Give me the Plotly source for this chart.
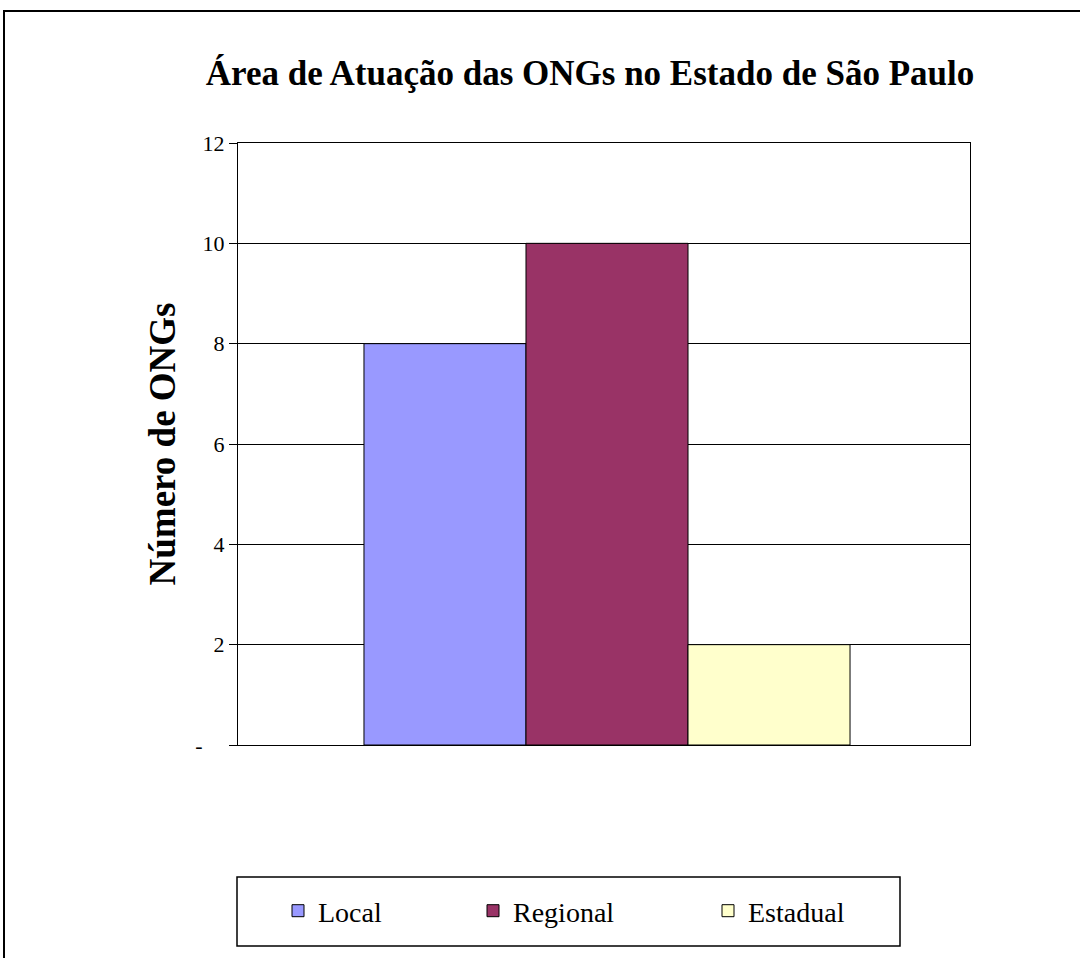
import plotly.graph_objects as go

# Área de atuação das ONGs
categories = ["Local", "Regional", "Estadual"]
counts = [8, 10, 2]
colors = ["#9999FF", "#993366", "#FFFFCC"]
y_ticks = [0, 2, 4, 6, 8, 10, 12]
y_tick_labels = ["-\u00a0\u00a0\u00a0\u00a0", "2", "4", "6", "8", "10", "12"]

W, H = 1080, 958
L, R, T, B = 238, 110, 143, 213
pw, ph = W - L - R, H - T - B


def px_x(px):
    return (px - L) / pw


def px_y(py):
    return (H - B - py) / ph


SERIF = "Liberation Serif, Times New Roman, serif"

# each series gets its own legend box entry so the entries can be spaced freely
legend_ids = ["legend", "legend2", "legend3"]
legend_left = [278, 473, 708]

fig = go.Figure()
for name, val, col, lg in zip(categories, counts, colors, legend_ids):
    fig.add_trace(go.Bar(
        x=[""], y=[val], name=name, legend=lg,
        marker=dict(color=col, line=dict(color="black", width=1)),
    ))

legend_style = dict(
    orientation="h", xanchor="left", yanchor="middle", y=px_y(911),
    font=dict(family=SERIF, size=28, color="black"),
    bgcolor="rgba(0,0,0,0)", borderwidth=0,
)

fig.update_layout(
    width=W, height=H,
    margin=dict(l=L, r=R, t=T, b=B),
    paper_bgcolor="white", plot_bgcolor="white",
    barmode="group", bargap=0.336, bargroupgap=0,
    font=dict(family=SERIF, color="black"),
    title=dict(
        text="<b>Área de Atuação das ONGs no Estado de São Paulo</b>",
        font=dict(family=SERIF, size=35, color="black"),
        x=px_x(590), xref="paper", xanchor="center",
        y=1 - 73 / H, yref="container", yanchor="middle",
    ),
    xaxis=dict(showticklabels=False, ticks="", showline=True, mirror=True,
               linecolor="black", linewidth=1, showgrid=False,
               range=[-0.5 - 3 / pw, 0.5 - 3 / pw]),
    yaxis=dict(
        range=[0, 12], tickvals=y_ticks, ticktext=y_tick_labels,
        ticks="outside", ticklen=8, tickcolor="black", tickwidth=1,
        tickfont=dict(family=SERIF, size=22, color="black"),
        showline=True, mirror=True, linecolor="black", linewidth=1,
        showgrid=True, gridcolor="black", gridwidth=1, zeroline=False,
        title=dict(text="<b>Número de ONGs</b>",
                   font=dict(family=SERIF, size=37, color="black"),
                   standoff=8),
    ),
    legend=dict(legend_style, x=px_x(legend_left[0])),
    legend2=dict(legend_style, x=px_x(legend_left[1])),
    legend3=dict(legend_style, x=px_x(legend_left[2])),
    showlegend=True,
    shapes=[
        # legend frame
        dict(type="rect", xref="paper", yref="paper",
             x0=px_x(237), x1=px_x(900), y0=px_y(946), y1=px_y(877),
             line=dict(color="black", width=1.5), fillcolor="rgba(0,0,0,0)"),
        # outer chart frame
        dict(type="rect", xref="paper", yref="paper",
             x0=px_x(4), x1=px_x(1090), y0=px_y(970), y1=px_y(11),
             line=dict(color="black", width=2), fillcolor="rgba(0,0,0,0)"),
    ],
)

fig.write_html("out.html")
